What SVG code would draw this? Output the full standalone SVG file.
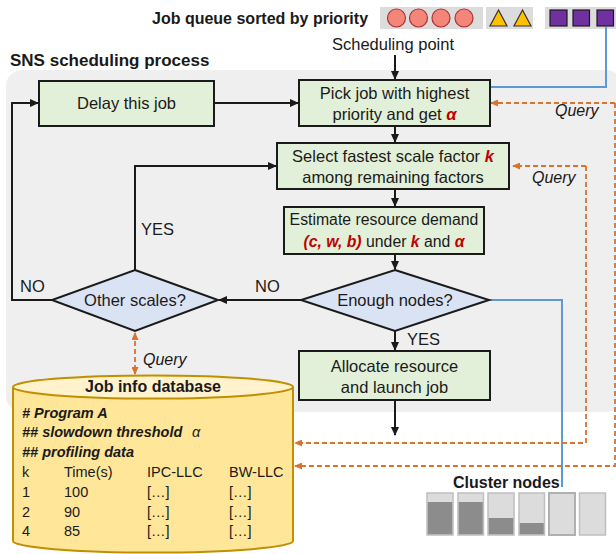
<svg xmlns="http://www.w3.org/2000/svg" width="616" height="554" viewBox="0 0 616 554">
<defs>
<style>
text{font-family:"Liberation Sans",Arial,sans-serif;fill:#1a1a1a}
.t{font-size:16.5px}
.c{text-anchor:middle}
.b{font-weight:bold}
.r{fill:#C00000;font-weight:bold;font-style:italic}
.q{font-size:16px;font-style:italic}
.box{fill:#E2F0D9;stroke:#1a1a1a;stroke-width:2}
.dia{fill:#DAE3F3;stroke:#1a1a1a;stroke-width:2}
.ln{fill:none;stroke:#1a1a1a;stroke-width:2}
.or{fill:none;stroke:#D9732E;stroke-width:1.8;stroke-dasharray:5 3}
.bl{fill:none;stroke:#5B9BD5;stroke-width:2}
.db{font-size:14.5px}
.dbi{font-size:14.5px;font-weight:bold;font-style:italic}
.bar{fill:#DCDCDC;stroke:#BFBFBF;stroke-width:1.5}
.fill{fill:#8C8C8C}
.qg{fill:#DCDCDC}
</style>
<marker id="ah" markerUnits="userSpaceOnUse" markerWidth="9" markerHeight="8" refX="8" refY="4" orient="auto">
<path d="M0,0 L9,4 L0,8 z" fill="#1a1a1a"/>
</marker>
<marker id="oh" markerUnits="userSpaceOnUse" markerWidth="8" markerHeight="7" refX="7" refY="3.5" orient="auto-start-reverse">
<path d="M0,0 L8,3.5 L0,7 z" fill="#D9732E"/>
</marker>
</defs>
<rect width="616" height="554" fill="#ffffff"/>
<rect x="6" y="70" width="616" height="342" rx="16" fill="#EFEFEF"/>

<g id="title">
<text x="10" y="66" class="b" style="font-size:17px">SNS scheduling process</text>
</g>

<g id="queue">
<text x="152" y="24" class="b" style="font-size:16px">Job queue sorted by priority</text>
<rect x="380" y="7" width="103" height="22" class="qg"/>
<rect x="486" y="7" width="47" height="22" class="qg"/>
<rect x="545" y="7" width="71" height="22" class="qg"/>
<g fill="#F4857A" stroke="#A33" stroke-width="1.2">
<circle cx="396.5" cy="18" r="9"/>
<circle cx="418.5" cy="18" r="9"/>
<circle cx="441" cy="18" r="9"/>
<circle cx="464" cy="18" r="9"/>
</g>
<g fill="#FFC000" stroke="#333" stroke-width="1.2">
<path d="M498.5,10 L507,26 L490,26 z"/>
<path d="M522.5,10 L531,26 L514,26 z"/>
</g>
<g fill="#7030A0" stroke="#1a1a1a" stroke-width="1.2">
<rect x="550" y="10" width="17" height="16"/>
<rect x="573" y="10" width="16.5" height="16"/>
<rect x="597" y="10" width="16.5" height="16"/>
</g>
</g>

<g id="scheduling-point">
<text x="393" y="50" class="t c">Scheduling point</text>
</g>

<g id="connectors">
<path class="ln" d="M395,55 V79" marker-end="url(#ah)"/>
<path class="ln" d="M214,103 H298" marker-end="url(#ah)"/>
<path class="ln" d="M395,127 V142" marker-end="url(#ah)"/>
<path class="ln" d="M395,189 V206" marker-end="url(#ah)"/>
<path class="ln" d="M395,254 V269" marker-end="url(#ah)"/>
<path class="ln" d="M395,331 V350" marker-end="url(#ah)"/>
<path class="ln" d="M395,400 V435" marker-end="url(#ah)"/>
<path class="ln" d="M301,300 H219" marker-end="url(#ah)"/>
<path class="ln" d="M135,270 V166 H276" marker-end="url(#ah)"/>
<path class="ln" d="M52,300 H12 V103 H38" marker-end="url(#ah)"/>
<path class="bl" d="M606,27 V87 H491"/>
<path class="bl" d="M489,300 H562 V487"/>
<path class="or" d="M615,103 H491" marker-end="url(#oh)"/>
<path class="or" d="M615,103 V466 H295" marker-end="url(#oh)"/>
<path class="or" d="M586,166 H513" marker-end="url(#oh)"/>
<path class="or" d="M586,166 V443 H295" marker-end="url(#oh)"/>
<path class="or" d="M135,333 V374" marker-start="url(#oh)" marker-end="url(#oh)"/>
<text x="555" y="116" class="q">Query</text>
<text x="532" y="183" class="q">Query</text>
<text x="143" y="365" class="q">Query</text>
<text x="141" y="235" class="t">YES</text>
<text x="407" y="345" class="t">YES</text>
<text x="255" y="292" class="t">NO</text>
<text x="20" y="292" class="t">NO</text>
</g>

<g id="delay">
<rect x="39" y="81" width="175" height="45" class="box"/>
<text x="126.5" y="109" class="t c">Delay this job</text>
</g>

<g id="pick">
<rect x="299" y="80" width="191" height="46" class="box"/>
<text x="394.5" y="99" class="t c">Pick job with highest</text>
<text x="394.5" y="120" class="t c">priority and get <tspan class="r">α</tspan></text>
</g>

<g id="select">
<rect x="277" y="143" width="232" height="46" class="box"/>
<text x="393" y="162" class="t c">Select fastest scale factor <tspan class="r">k</tspan></text>
<text x="393" y="183" class="t c">among remaining factors</text>
</g>

<g id="estimate">
<rect x="284" y="207" width="200" height="47" class="box"/>
<text x="384" y="225" class="c" style="font-size:15.8px">Estimate resource demand</text>
<text x="384" y="247" class="c" style="font-size:15.8px"><tspan class="r">(c, w, b)</tspan> under <tspan class="r">k</tspan> and <tspan class="r">α</tspan></text>
</g>

<g id="enough">
<path d="M395,270 L489,300 L395,331 L301,300 z" class="dia"/>
<text x="395" y="306" class="t c">Enough nodes?</text>
</g>

<g id="other">
<path d="M135,270 L218,300 L135,331 L52,300 z" class="dia"/>
<text x="135" y="306" class="t c">Other scales?</text>
</g>

<g id="allocate">
<rect x="299" y="351" width="191" height="49" class="box"/>
<text x="394.5" y="372" class="t c">Allocate resource</text>
<text x="394.5" y="393" class="t c">and launch job</text>
</g>

<g id="database">
<path d="M13,387 V541 A140,11.5 0 0 0 293,541 V387" fill="#FFE699" stroke="#BF9000" stroke-width="2"/>
<ellipse cx="153" cy="387" rx="140" ry="11.5" fill="#FFF2CC" stroke="#BF9000" stroke-width="2"/>
<text x="153" y="392" class="b c" style="font-size:16px">Job info database</text>
<text x="22" y="418" class="dbi"># Program A</text>
<text x="22" y="437" class="dbi">## slowdown threshold</text>
<text x="192" y="437" class="db" style="font-style:italic">α</text>
<text x="22" y="457" class="dbi">## profiling data</text>
<g class="db">
<text x="22" y="477" class="db">k</text><text x="64" y="477" class="db">Time(s)</text><text x="147" y="477" class="db">IPC-LLC</text><text x="229" y="477" class="db">BW-LLC</text>
<text x="22" y="497" class="db">1</text><text x="64" y="497" class="db">100</text><text x="147" y="497" class="db">[…]</text><text x="229" y="497" class="db">[…]</text>
<text x="22" y="517" class="db">2</text><text x="64" y="517" class="db">90</text><text x="147" y="517" class="db">[…]</text><text x="229" y="517" class="db">[…]</text>
<text x="22" y="536" class="db">4</text><text x="64" y="536" class="db">85</text><text x="147" y="536" class="db">[…]</text><text x="229" y="536" class="db">[…]</text>
</g>
</g>

<g id="cluster">
<text x="453" y="488" class="b" style="font-size:16px">Cluster nodes</text>
<rect x="427" y="493" width="26" height="42" class="bar"/>
<rect x="427.75" y="502" width="24.5" height="32.25" class="fill"/>
<rect x="458" y="493" width="25.5" height="42" class="bar"/>
<rect x="458.75" y="502" width="24" height="32.25" class="fill"/>
<rect x="488" y="493" width="26" height="42" class="bar"/>
<rect x="488.75" y="518" width="24.5" height="16.25" class="fill"/>
<rect x="519" y="493" width="25.5" height="42" class="bar"/>
<rect x="519.75" y="523" width="24" height="11.25" class="fill"/>
<rect x="549" y="493" width="26" height="42" class="bar" style="stroke:#B0B0B0;stroke-width:2"/>
<rect x="579.5" y="493" width="26" height="42" class="bar"/>
</g>
</svg>
